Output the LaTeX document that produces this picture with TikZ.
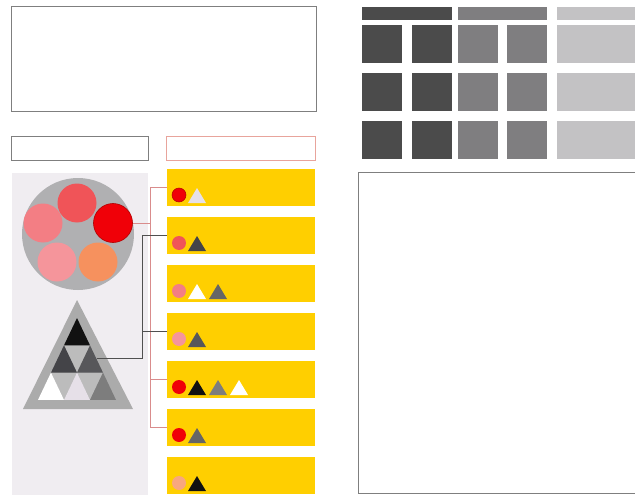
\documentclass[tikz,border=0pt]{standalone}
\usetikzlibrary{calc}
\definecolor{barY}{HTML}{FFCF00}
\definecolor{panel}{HTML}{F0EDF1}
\definecolor{boxline}{HTML}{7F7F7F}
\definecolor{salmonline}{HTML}{E8A49C}
\definecolor{connS}{HTML}{D98C8C}
\definecolor{connD}{HTML}{505050}
\definecolor{dk}{HTML}{4B4B4B}
\definecolor{md}{HTML}{7F7E80}
\definecolor{lt}{HTML}{C3C2C4}
\definecolor{cRed}{HTML}{F00008}
\definecolor{cRose}{HTML}{F05458}
\definecolor{cPink}{HTML}{F37E84}
\definecolor{cLpink}{HTML}{F5959B}
\definecolor{cPeach}{HTML}{F6915E}
\definecolor{tBlack}{HTML}{111111}
\definecolor{tDark}{HTML}{444448}
\definecolor{tGray}{HTML}{666666}
\definecolor{tWhite}{HTML}{FFFFFF}
\definecolor{tPale}{HTML}{E6E0E8}
\definecolor{gBig}{HTML}{B0B0B2}
\definecolor{gDown}{HTML}{BCBCBC}
\definecolor{gOuter}{HTML}{ABABAB}
\tikzset{
  frame/.style={draw=boxline, line width=1pt, fill=white},
  bar/.style={fill=barY, draw=none, minimum width=148pt, minimum height=37pt, inner sep=0pt},
  dot/.style={circle, inner sep=0pt, minimum size=14pt},
  bigdot/.style={circle, inner sep=0pt, minimum size=39pt},
  tile/.style={draw=none, inner sep=0pt},
  conS/.style={draw=connS, line width=1pt},
  conD/.style={draw=connD, line width=1pt},
}
\newcommand{\tri}[3]{% x, y(base), color
  \fill[#3] ($(#1,#2)+(-9,0)$) -- ($(#1,#2)+(9,0)$) -- ($(#1,#2)+(0,-15)$) -- cycle;}
\begin{document}
\begin{tikzpicture}[x=1pt,y=-1pt]
\useasboundingbox (0,0) rectangle (635,495);
\fill[white] (0,0) rectangle (635,495);

% top-left box
\node[frame, anchor=north west, minimum width=305pt, minimum height=105pt, inner sep=0pt] (topbox) at (11,6) {};
% small header boxes
\node[frame, anchor=north west, minimum width=137pt, minimum height=24pt, inner sep=0pt] (hdrL) at (11,136) {};
\node[draw=salmonline, line width=1pt, fill=white, anchor=north west, minimum width=149pt, minimum height=24pt, inner sep=0pt] (hdrR) at (166,136) {};

% left panel
\node[fill=panel, draw=none, anchor=north west, minimum width=136pt, minimum height=322pt, inner sep=0pt] (panel) at (12,173) {};

% big circle group
\node[bigdot, fill=gBig, minimum size=112pt] (big) at (78,234) {};
\node[bigdot, fill=cRose] (c1) at (77,203) {};
\node[bigdot, fill=cPink] (c2) at (43,223) {};
\node[bigdot, fill=cRed, draw=red!70!black, line width=0.6pt] (c3) at (113,223) {};
\node[bigdot, fill=cLpink] (c4) at (57,262) {};
\node[bigdot, fill=cPeach] (c5) at (98,262) {};

% big triangle group
\fill[gOuter] (77,300) -- (133,409) -- (23,409) -- cycle;
\def\ax{77}\def\ay{318}\def\h{27.3}\def\w{13}
% downward (light) triangles
\foreach \r/\k in {1/0,2/0,2/1}{
  \fill[gDown] ({\ax+(2*\k-\r)*\w},{\ay+\r*\h}) -- ({\ax+(2*\k-\r+2)*\w},{\ay+\r*\h}) -- ({\ax+(2*\k-\r+1)*\w},{\ay+(\r+1)*\h}) -- cycle;}
% upward triangles
\foreach \r/\k/\c in {0/0/tBlack,1/0/tDark,1/1/tDark!90!white,2/0/tWhite,2/1/tPale,2/2/tGray!85!white}{
  \fill[\c] ({\ax+(2*\k-\r)*\w},{\ay+\r*\h}) -- ({\ax+(2*\k-\r+1)*\w},{\ay+(\r+1)*\h}) -- ({\ax+(2*\k-\r-1)*\w},{\ay+(\r+1)*\h}) -- cycle;}
\coordinate (tdark) at (97,358);

% yellow bars
\foreach \i/\t in {1/169,2/217,3/265,4/313,5/361,6/409,7/457}{
  \node[bar, anchor=north west] (b\i) at (167,\t) {};}

% icons
\node[dot, fill=cRed, draw=red!70!black, line width=0.5pt] (i1c) at (179,195) {};
\tri{197}{203}{tPale}
\node[dot, fill=cRose] (i2c) at (179,243) {};
\tri{197}{251}{tDark}
\node[dot, fill=cPink] (i3c) at (179,291) {};
\tri{197}{299}{tWhite}
\tri{218}{299}{tGray}
\node[dot, fill=cLpink] (i4c) at (179,339) {};
\tri{197}{347}{tDark!90!white}
\node[dot, fill=cRed] (i5c) at (179,387) {};
\tri{197}{395}{tBlack}
\tri{218}{395}{tGray!85!white}
\tri{239}{395}{tWhite}
\node[dot, fill=cRed] (i6c) at (179,435) {};
\tri{197}{443}{tGray}
\node[dot, fill=cPeach!80!white] (i7c) at (179,483) {};
\tri{197}{491}{tBlack}

% connectors (salmon)
\coordinate (sTop) at (150,188);
\draw[conS] (c3.east) -- (c3.east -| sTop);
\draw[conS] (b1.west) -- (b1.west -| sTop) -- (sTop |- b6.west) -- (b6.west);
\draw[conS] (b5.west) -- (b5.west -| sTop);
% connectors (dark)
\coordinate (dX) at (142,0);
\draw[conD] (tdark) -- (tdark -| dX) -- (dX |- b2.west) -- (b2.west);
\draw[conD] (b4.west) -- (b4.west -| dX);

% right grid
\node[tile, fill=dk, anchor=north west, minimum width=90pt, minimum height=13pt] (h1) at (362,7) {};
\node[tile, fill=md, anchor=north west, minimum width=89pt, minimum height=13pt] (h2) at (458,7) {};
\node[tile, fill=lt, anchor=north west, minimum width=80pt, minimum height=13pt] (h3) at (557,7) {};
\foreach \j/\y in {1/25,2/73,3/121}{
  \node[tile, fill=dk, anchor=north west, minimum width=40pt, minimum height=38pt] (d1\j) at (362,\y) {};
  \node[tile, fill=dk, anchor=north west, minimum width=40pt, minimum height=38pt] (d2\j) at (412,\y) {};
  \node[tile, fill=md, anchor=north west, minimum width=40pt, minimum height=38pt] (m1\j) at (458,\y) {};
  \node[tile, fill=md, anchor=north west, minimum width=40pt, minimum height=38pt] (m2\j) at (507,\y) {};
  \node[tile, fill=lt, anchor=north west, minimum width=80pt, minimum height=38pt] (l\j) at (557,\y) {};
}

% bottom-right box
\draw[draw=boxline, line width=1pt] (640,172) -- (358,172) -- (358,493) -- (640,493);
\coordinate (brbox) at (358,172);
\end{tikzpicture}
\end{document}
